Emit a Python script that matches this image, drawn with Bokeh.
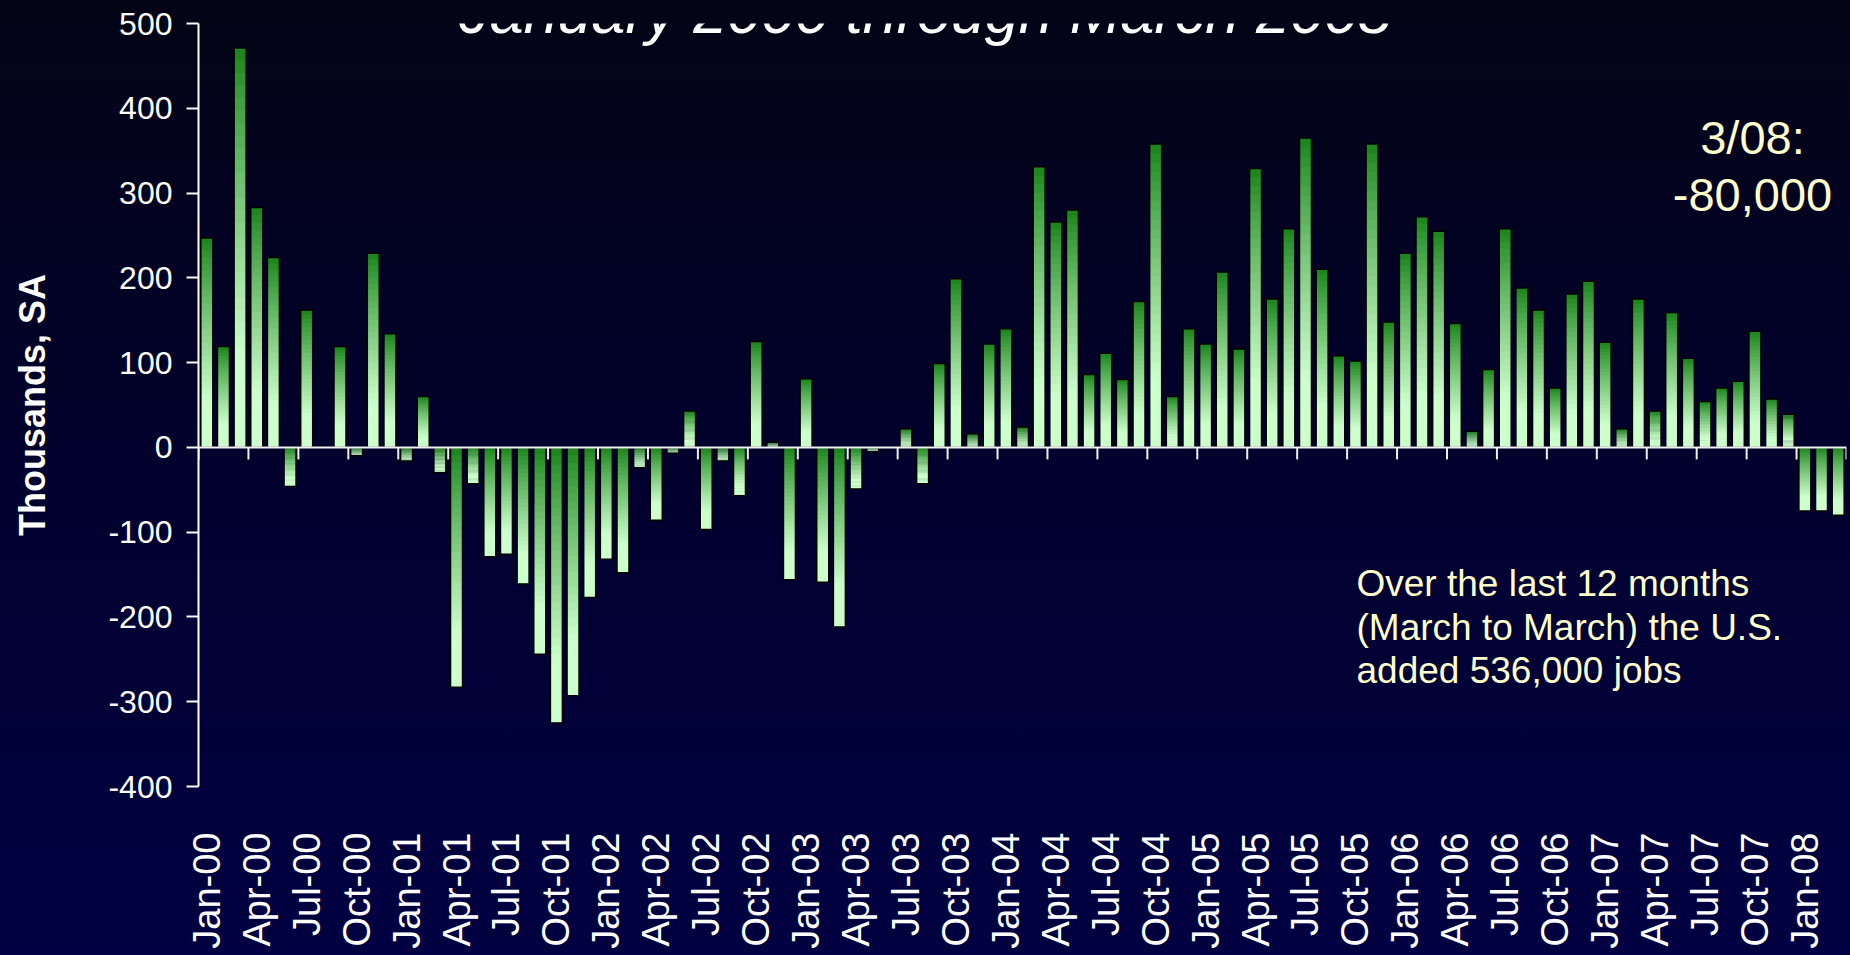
import numpy as np
from bokeh.plotting import figure
from bokeh.models import FixedTicker, Span, Label, Range1d
from bokeh.embed import file_html
from bokeh.resources import INLINE

# ---------------- data (thousands of jobs, monthly change, SA) ----------------
job_change = [
    247, 119, 471, 283, 224, -46, 162, 0, 119, -10, 229, 134,          # 2000
    -16, 60, -30, -283, -43, -129, -126, -161, -244, -325, -293, -177,  # 2001
    -132, -148, -24, -86, -7, 43, -97, -16, -57, 125, 6, -156,          # 2002
    81, -159, -212, -49, -5, 0, 22, -43, 99, 199, 16, 122,              # 2003
    140, 24, 331, 266, 280, 86, 111, 80, 172, 358, 60, 140,             # 2004
    122, 207, 116, 329, 175, 258, 365, 210, 108, 102, 358, 148,         # 2005
    229, 272, 255, 146, 19, 92, 258, 188, 162, 70, 181, 196,            # 2006
    124, 22, 175, 43, 159, 105, 54, 70, 78, 137, 57, 39,                # 2007
    -75, -75, -80,                                                      # 2008
]
tick_labels = [
    "Jan-00", "Apr-00", "Jul-00", "Oct-00", "Jan-01", "Apr-01", "Jul-01", "Oct-01",
    "Jan-02", "Apr-02", "Jul-02", "Oct-02", "Jan-03", "Apr-03", "Jul-03", "Oct-03",
    "Jan-04", "Apr-04", "Jul-04", "Oct-04", "Jan-05", "Apr-05", "Jul-05", "Oct-05",
    "Jan-06", "Apr-06", "Jul-06", "Oct-06", "Jan-07", "Apr-07", "Jul-07", "Oct-07",
    "Jan-08",
]
y_ticks = [-400, -300, -200, -100, 0, 100, 200, 300, 400, 500]
y_tick_labels = ["-400", "-300", "-200", "-100", "0", "100", "200", "300", "400", "500"]
title_text = "January 2000 through March 2008"
y_title = "Thousands, SA"
callout_lines = ["3/08:", "-80,000"]
note_lines = ["Over the last 12 months", "(March to March) the U.S.", "added 536,000 jobs"]

# ---------------- figure ----------------
W, H = 1850, 955
ML, MR, MT, MB = 198, 4, 23, 169
n = len(job_change)
p = figure(width=W, height=H, output_backend="svg", toolbar_location=None,
           x_range=Range1d(-0.5, n - 0.5), y_range=Range1d(y_ticks[0], y_ticks[-1]),
           min_border_left=ML, min_border_right=MR, min_border_top=MT, min_border_bottom=MB)
p.background_fill_alpha = 0
p.border_fill_alpha = 0
p.outline_line_color = None
p.xgrid.visible = False
p.ygrid.visible = False
p.styles = {"position": "absolute", "left": "0px", "top": "0px",
            "background": "linear-gradient(180deg, #040416 0%, #01012c 45%, #000042 100%)"}

FW = W - ML - MR
FH = H - MT - MB
def X(px):
    return -0.5 + (px - ML) * n / FW
def Y(py):
    return y_ticks[-1] - (py - MT) * (y_ticks[-1] - y_ticks[0]) / FH

FONT = "Liberation Sans"

# ---------------- gradient bars ----------------
vals = np.array(job_change, dtype=float)
idx = np.arange(n, dtype=float)
hi = np.maximum(vals, 0.0)
lo = np.minimum(vals, 0.0)
span = hi - lo
N = 32
k = np.arange(N)
t0 = k / N
t1 = np.minimum((k + 1) / N + 0.012, 1.0)
tm = (k + 0.5) / N
dark = np.array([22, 130, 22])
light = np.array([204, 255, 204])
f = np.clip(tm / 0.78, 0, 1) ** 0.85
slice_cols = ["#%02x%02x%02x" % tuple(int(round(c)) for c in (dark + (light - dark) * fi)) for fi in f]

bw = 0.72
lefts, rights, tops, bots, cols = [], [], [], [], []
for i in range(n):
    if span[i] <= 0:
        continue
    for j in range(N):
        lefts.append(idx[i] - bw / 2)
        rights.append(idx[i] + bw / 2)
        tops.append(hi[i] - span[i] * t0[j])
        bots.append(hi[i] - span[i] * t1[j])
        cols.append(slice_cols[j])
p.quad(left=lefts, right=rights, top=tops, bottom=bots, fill_color=cols, line_color=None)
p.vbar(x=idx, top=vals, bottom=0, width=bw, fill_alpha=0, line_color="black", line_width=1.5)

# zero line with category-boundary ticks
bounds = np.arange(-0.5, n, 3)
tick_len = 12 * (y_ticks[-1] - y_ticks[0]) / FH
p.segment(x0=bounds, y0=0, x1=bounds, y1=-tick_len, line_color="#f0f0f0", line_width=2)
p.add_layout(Span(location=0, dimension="width", line_color="#f0f0f0", line_width=2))

# ---------------- axes ----------------
xa = p.xaxis[0]
label_pos = list(range(0, n, 3))
xa.ticker = FixedTicker(ticks=label_pos)
xa.major_label_overrides = {pos: lab for pos, lab in zip(label_pos, tick_labels)}
xa.major_label_orientation = np.pi / 2
xa.major_label_text_font = FONT
xa.major_label_text_font_size = "38px"
xa.major_label_text_color = "white"
xa.major_label_standoff = 40
xa.major_tick_line_color = None
xa.minor_tick_line_color = None
xa.axis_line_color = None

ya = p.yaxis[0]
ya.ticker = FixedTicker(ticks=y_ticks)
ya.major_label_overrides = {v: s for v, s in zip(y_ticks, y_tick_labels)}
ya.major_label_text_font = FONT
ya.major_label_text_font_size = "32px"
ya.major_label_text_color = "white"
ya.major_label_standoff = 14
ya.major_tick_out = 12
ya.major_tick_in = 0
ya.major_tick_line_color = "white"
ya.major_tick_line_width = 2
ya.minor_tick_line_color = None
ya.axis_line_color = "white"
ya.axis_line_width = 2
ya.axis_label = y_title
ya.axis_label_text_font = FONT
ya.axis_label_text_font_style = "bold"
ya.axis_label_text_font_size = "36px"
ya.axis_label_text_color = "white"
ya.axis_label_standoff = 52

# ---------------- text annotations ----------------
p.add_layout(Label(x=X(925), y=Y(11), text=title_text, text_align="center",
                   text_baseline="alphabetic", text_font=FONT, text_font_style="italic",
                   text_font_size="61px", text_color="white"))
for line, py in zip(callout_lines, [137, 194]):
    p.add_layout(Label(x=X(1752), y=Y(py), text=line, text_align="center",
                       text_baseline="alphabetic", text_font=FONT,
                       text_font_size="47px", text_color="#ffffcc"))
for line, py in zip(note_lines, [583, 627, 670]):
    p.add_layout(Label(x=X(1356), y=Y(py), text=line, text_align="left",
                       text_baseline="alphabetic", text_font=FONT,
                       text_font_size="37px", text_color="#ffffcc"))

open("out.html", "w").write(file_html(p, INLINE))
